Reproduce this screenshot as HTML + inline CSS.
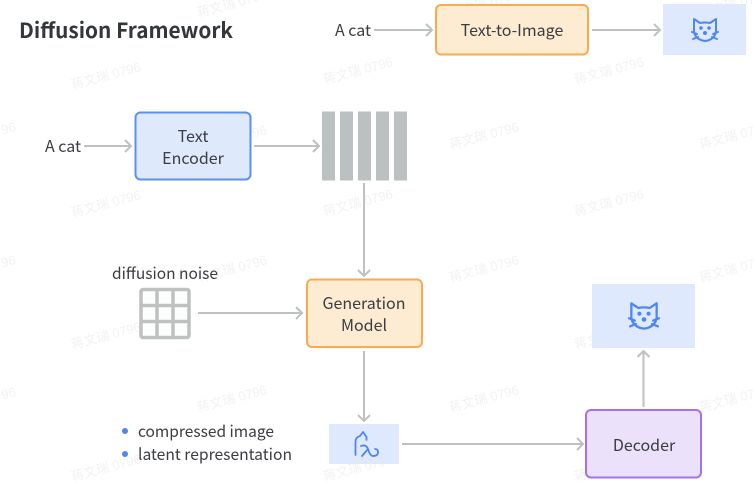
<!DOCTYPE html>
<html><head><meta charset="utf-8">
<style>
html,body{margin:0;padding:0;background:#fff}
svg{display:block}
text{font-family:"Noto Sans CJK SC","Liberation Sans",sans-serif;fill:#3a3d42;font-size:16px;text-anchor:middle}
.w{font-family:"Liberation Sans","Noto Sans CJK SC",sans-serif;font-size:13px;fill:#f2f2f2;text-anchor:middle}
.a{fill:none;stroke:#bdc1c0;stroke-width:2}
.i{fill:none;stroke:#4e86f5;stroke-width:2;stroke-linecap:round;stroke-linejoin:round}
</style></head><body>
<svg width="754" height="483" viewBox="0 0 754 483" xmlns="http://www.w3.org/2000/svg">
<defs>
<g id="cat">
<path class="i" d="M-11,-11 L-5,-7 Q0,-8 5,-7 L11,-11 L11,2 Q9,10 0,11 Q-9,10 -11,2 Z"/>
<path class="i" d="M-13,2 L-8,4 M-12,9 L-7,7 M13,2 L8,4 M12,9 L7,7"/>
<circle cx="-4" cy="-2" r="1.8" fill="#4e86f5"/><circle cx="4" cy="-2" r="1.8" fill="#4e86f5"/><circle cx="0" cy="3" r="2" fill="#4e86f5"/>
</g>
</defs>
<g class="w">
<text class="w" transform="translate(233,8) rotate(-15)">蒋文瑞 0796</text>
<text class="w" transform="translate(485,8) rotate(-15)">蒋文瑞 0796</text>
<text class="w" transform="translate(735,8) rotate(-15)">蒋文瑞 0796</text>
<text class="w" transform="translate(107,80) rotate(-15)">蒋文瑞 0796</text>
<text class="w" transform="translate(359,75) rotate(-15)">蒋文瑞 0796</text>
<text class="w" transform="translate(610,75) rotate(-15)">蒋文瑞 0796</text>
<text class="w" transform="translate(-18,140) rotate(-15)">蒋文瑞 0796</text>
<text class="w" transform="translate(233,143) rotate(-15)">蒋文瑞 0796</text>
<text class="w" transform="translate(485,140) rotate(-15)">蒋文瑞 0796</text>
<text class="w" transform="translate(735,140) rotate(-15)">蒋文瑞 0796</text>
<text class="w" transform="translate(107,208) rotate(-15)">蒋文瑞 0796</text>
<text class="w" transform="translate(359,207) rotate(-15)">蒋文瑞 0796</text>
<text class="w" transform="translate(610,207) rotate(-15)">蒋文瑞 0796</text>
<text class="w" transform="translate(-18,273) rotate(-15)">蒋文瑞 0796</text>
<text class="w" transform="translate(233,273) rotate(-15)">蒋文瑞 0796</text>
<text class="w" transform="translate(485,273) rotate(-15)">蒋文瑞 0796</text>
<text class="w" transform="translate(735,273) rotate(-15)">蒋文瑞 0796</text>
<text class="w" transform="translate(107,340) rotate(-15)">蒋文瑞 0796</text>
<text class="w" transform="translate(359,340) rotate(-15)">蒋文瑞 0796</text>
<text class="w" transform="translate(610,340) rotate(-15)">蒋文瑞 0796</text>
<text class="w" transform="translate(-18,405) rotate(-15)">蒋文瑞 0796</text>
<text class="w" transform="translate(233,403) rotate(-15)">蒋文瑞 0796</text>
<text class="w" transform="translate(485,403) rotate(-15)">蒋文瑞 0796</text>
<text class="w" transform="translate(735,403) rotate(-15)">蒋文瑞 0796</text>
<text class="w" transform="translate(107,472) rotate(-15)">蒋文瑞 0796</text>
<text class="w" transform="translate(359,472) rotate(-15)">蒋文瑞 0796</text>
<text class="w" transform="translate(610,472) rotate(-15)">蒋文瑞 0796</text>
</g>

<text x="19" y="38" style="font-size:21px;font-weight:700;text-anchor:start;fill:#33363b" textLength="214" lengthAdjust="spacingAndGlyphs">Diffusion Framework</text>

<!-- top row -->
<text x="353" y="36">A cat</text>
<path class="a" d="M374,30H432M426,24L432,30L426,36"/>
<rect x="436" y="5" width="152" height="49.500" rx="5" fill="#fdebd2" stroke="#f9ab4e" stroke-width="2"/>
<text x="512" y="36">Text-to-Image</text>
<path class="a" d="M592,30H660M654,24L660,30L654,36"/>
<rect x="663" y="4" width="83" height="51" fill="#dfe9fd"/>
<use href="#cat" transform="translate(705,30)"/>

<!-- text encoder row -->
<text x="63" y="152">A cat</text>
<path class="a" d="M84,146H131M125,140L131,146L125,152"/>
<rect x="135.500" y="112.500" width="115" height="67" rx="5" fill="#dfe9fc" stroke="#5b90f3" stroke-width="2"/>
<text x="193" y="142">Text</text>
<text x="193" y="164">Encoder</text>
<path class="a" d="M254,146H319M313,140L319,146L313,152"/>
<g fill="#bbc0c0">
<rect x="322" y="111.500" width="13" height="69"/>
<rect x="340" y="111.500" width="13" height="69"/>
<rect x="358" y="111.500" width="13" height="69"/>
<rect x="376" y="111.500" width="13" height="69"/>
<rect x="394" y="111.500" width="13" height="69"/>
</g>
<path class="a" d="M364,183V276M358,270L364,276L370,270"/>

<!-- generation row -->
<text x="165" y="279" textLength="106" lengthAdjust="spacingAndGlyphs">diffusion noise</text>
<rect x="141" y="289.500" width="48" height="48" rx="2" fill="#fdfdfd" stroke="#bdc1c0" stroke-width="3.500"/>
<path fill="none" stroke="#bdc1c0" stroke-width="3.500" d="M157,289.500V337.500M173,289.500V337.500M141,305.500H189M141,321.500H189"/>
<path class="a" d="M198,313H302M296,307L302,313L296,319"/>
<rect x="307" y="279.500" width="115" height="67.500" rx="5" fill="#fdebd2" stroke="#f9ab4e" stroke-width="2"/>
<text x="364" y="309">Generation</text>
<text x="364" y="331">Model</text>
<path class="a" d="M364,351V421M358,415L364,421L370,415"/>

<!-- latent row -->
<circle cx="125" cy="431" r="3" fill="#4e86f5"/>
<circle cx="125" cy="454" r="3" fill="#4e86f5"/>
<text x="138" y="437" style="text-anchor:start" textLength="136" lengthAdjust="spacingAndGlyphs">compressed image</text>
<text x="138" y="460" style="text-anchor:start" textLength="154" lengthAdjust="spacingAndGlyphs">latent representation</text>
<rect x="329" y="424" width="70" height="40" fill="#dfe9fd"/>
<path fill="none" stroke="#4e86f5" stroke-width="1.800" stroke-linecap="round" stroke-linejoin="round" d="M355.500,455V442Q355.500,437 360,436L363,432L366.500,437V440M361,446Q366,444 368,449L362,456M368,449Q370,456 373,456Q378,456 378,452Q378,449 375,449"/>
<path class="a" d="M402,444H583M577,438L583,444L577,450"/>
<rect x="586" y="410" width="115" height="67.500" rx="5" fill="#ebe1fa" stroke="#a470ee" stroke-width="2"/>
<text x="644" y="451">Decoder</text>
<path class="a" d="M643.500,407V351M637.500,357L643.500,351L649.500,357"/>
<rect x="592" y="284" width="103" height="64" fill="#dfe9fd"/>
<use href="#cat" transform="translate(644,316) scale(1.150)"/>
</svg>
</body></html>
